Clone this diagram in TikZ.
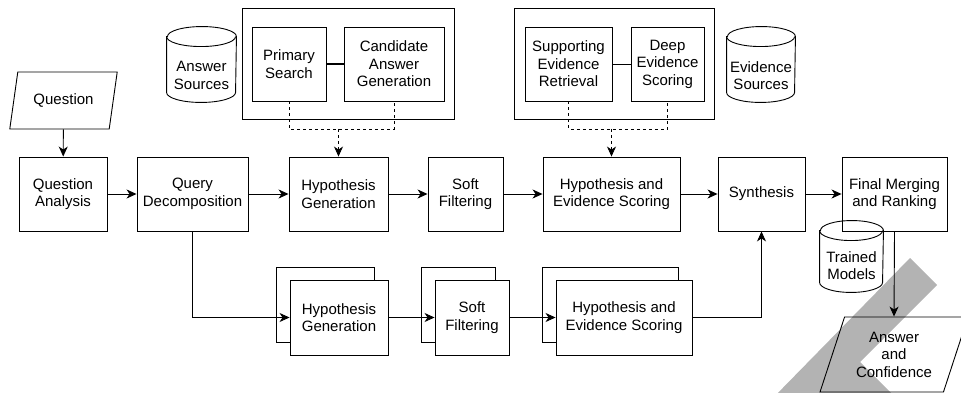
\documentclass[tikz,border=0pt]{standalone}
\usepackage{fontspec}
\setmainfont{Liberation Sans}
\usetikzlibrary{arrows.meta,shapes.geometric,shadows}
\definecolor{bandgray}{RGB}{179,179,179}

\begin{document}
\begin{tikzpicture}[x=1pt, y=-1pt, line width=0.9pt,
  font=\fontsize{15}{17.5}\selectfont,
  >={Stealth[length=10pt, width=9pt, inset=3pt]},
  box/.style={draw, fill=white, align=center, inner sep=1pt, minimum height=74},
  stack/.style={box, minimum height=75,
    copy shadow={shadow xshift=-14pt, shadow yshift=13pt, draw, fill=white}},
  frame/.style={draw, inner sep=0pt},
  db/.style={inner sep=0pt},
  para/.style={trapezium, trapezium stretches=true, draw, align=center, inner sep=0pt}]
\useasboundingbox (0,0) rectangle (961,393);
\clip (0,0) rectangle (961,393);
% grey band behind the output
\fill[bandgray] (910,258) -- (937,285) -- (860,362) -- (898,400) -- (771,400) -- cycle;

% main row
\node[para, trapezium left angle=69, trapezium right angle=111,
  minimum width=108, minimum height=57] (q) at (63.5,100.5) {Question};
\node[box, minimum width=88] (qa) at (63,194) {Question\\Analysis};
\node[box, minimum width=111] (qd) at (192.5,194) {Query\\Decomposition};
\node[box, minimum width=99] (hg) at (338.5,194) {Hypothesis\\Generation};
\node[box, minimum width=75] (sf) at (465.5,194) {Soft\\Filtering};
\node[box, minimum width=137] (hes) at (611.5,194) {Hypothesis and\\Evidence Scoring};
\node[box, minimum width=87] (syn) at (761.5,194) {Synthesis};
\node[box, minimum width=105] (fmr) at (894.5,194) {Final Merging\\and Ranking};

% search group
\node[frame, minimum width=212, minimum height=111] (grpa) at (348,63.5) {};
\node[box, minimum width=74] (ps) at (289,64) {Primary\\Search};
\node[box, minimum width=100] (cag) at (394,64) {Candidate\\Answer\\Generation};
\node[db, minimum width=69, minimum height=75,
  label={[align=center, yshift=-11pt]center:Answer\\Sources}] (as) at (201.5,64.5) {};
\draw ([yshift=-10pt]as.north west) -- ([yshift=10pt]as.south west)
  arc[start angle=180, end angle=360, x radius=34.5pt, y radius=10pt]
  -- ([yshift=-10pt]as.north east)
  arc[start angle=0, end angle=180, x radius=34.5pt, y radius=10pt] -- cycle;
\draw ([yshift=-10pt]as.north west) arc[start angle=180, end angle=360, x radius=34.5pt, y radius=10pt];
\coordinate (joina) at (338.5,129);

% evidence group
\node[frame, minimum width=200, minimum height=111] (grpb) at (614,63.5) {};
\node[box, minimum width=87] (ser) at (568.5,64) {Supporting\\Evidence\\Retrieval};
\node[box, minimum width=73] (des) at (667.5,64) {Deep\\Evidence\\Scoring};
\node[db, minimum width=68, minimum height=75,
  label={[align=center, yshift=-11pt]center:Evidence\\Sources}] (es) at (761,64.5) {};
\draw ([yshift=-10pt]es.north west) -- ([yshift=10pt]es.south west)
  arc[start angle=180, end angle=360, x radius=34pt, y radius=10pt]
  -- ([yshift=-10pt]es.north east)
  arc[start angle=0, end angle=180, x radius=34pt, y radius=10pt] -- cycle;
\draw ([yshift=-10pt]es.north west) arc[start angle=180, end angle=360, x radius=34pt, y radius=10pt];
\coordinate (joinb) at (611.5,129);

% parallel row
\node[stack, minimum width=98] (hg2) at (339,317.5) {Hypothesis\\Generation};
\node[stack, minimum width=74] (sf2) at (472,317.5) {Soft\\Filtering};
\node[stack, minimum width=136] (hes2) at (624,317.5) {Hypothesis and\\Evidence Scoring};

% output
\node[db, minimum width=63, minimum height=71,
  label={[align=center, yshift=-9pt]center:Trained\\Models}] (tm) at (851.5,256.5) {};
\draw ([yshift=-10pt]tm.north west) -- ([yshift=10pt]tm.south west)
  arc[start angle=180, end angle=360, x radius=31.5pt, y radius=10pt]
  -- ([yshift=-10pt]tm.north east)
  arc[start angle=0, end angle=180, x radius=31.5pt, y radius=10pt] -- cycle;
\draw ([yshift=-10pt]tm.north west) arc[start angle=180, end angle=360, x radius=31.5pt, y radius=10pt];
\node[para, trapezium left angle=67.5, trapezium right angle=112.5,
  minimum width=148, minimum height=75] (ans) at (894,354.5) {Answer\\and\\Confidence};

\draw[->] (q) -- (qa);
\draw[->] (qa) -- (qd);
\draw[->] (qd) -- (hg);
\draw[->] (hg) -- (sf);
\draw[->] (sf) -- (hes);
\draw[->] (hes) -- (syn);
\draw[->] (syn) -- (fmr);
\draw[line width=1.6pt] (ps) -- (cag);
\draw (ser) -- (des);
\draw[dash pattern=on 3pt off 3pt] (ps.south) |- (joina) -| (cag.south);
\draw[dash pattern=on 3pt off 3pt, ->] (joina) -- (hg.north);
\draw[dash pattern=on 3pt off 3pt] (ser.south) |- (joinb) -| (des.south);
\draw[dash pattern=on 3pt off 3pt, ->] (joinb) -- (hes.north);
\draw[->] (qd.south) |- (hg2.west);
\draw[->] (hg2) -- (sf2);
\draw[->] (sf2) -- (hes2);
\draw[->] (hes2.east) -| (syn.south);
\draw[->] (fmr.south) -- (ans.north);
\end{tikzpicture}
\end{document}
